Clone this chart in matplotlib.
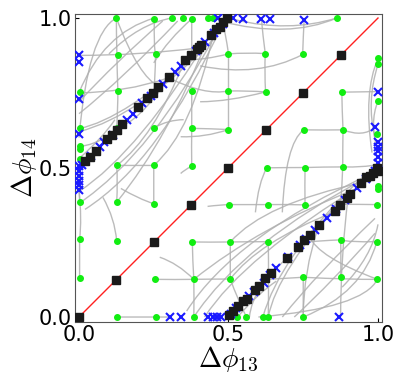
import matplotlib
matplotlib.use("Agg")
import matplotlib.pyplot as plt
from matplotlib.path import Path
from matplotlib.patches import PathPatch

plt.rcParams['mathtext.fontset'] = 'cm'

# green dots (start points)
green_x = [0.125, 0.252, 0.31, 0.349, 0.377, 0.432, 0.447, 0.862,
           0.13, 0.256, 0.5, 0.623, 0.748, 1.0, 1.0,
           0.004, 0.13, 0.377, 0.5, 0.624, 0.879, 1.0,
           0.003, 0.126, 0.25, 0.377, 0.5, 0.751, 0.883, 0.998,
           0.003, 0.003, 0.003,
           0.126, 0.25, 0.377, 0.628, 0.756, 0.882,
           1.0, 1.0,
           0.002, 0.126, 0.25, 0.503, 0.631, 0.756, 0.996,
           0.002, 0.126, 0.379, 0.506, 0.633, 0.875, 0.996,
           0.002, 0.254, 0.384, 0.506, 0.75, 0.875, 0.998,
           0.128, 0.259, 0.384, 0.53, 0.56, 0.615, 0.633, 0.75]
green_y = [1.0, 0.998, 1.0, 1.0, 0.997, 1.0, 1.0, 1.0,
           0.877, 0.878, 0.88, 0.881, 0.878, 0.865, 0.845,
           0.752, 0.755, 0.756, 0.756, 0.753, 0.752, 0.722,
           0.633, 0.633, 0.633, 0.631, 0.627, 0.626, 0.626, 0.613,
           0.573, 0.562, 0.529,
           0.507, 0.507, 0.505, 0.499, 0.5, 0.502,
           0.437, 0.427,
           0.384, 0.384, 0.379, 0.376, 0.376, 0.375, 0.376,
           0.26, 0.254, 0.251, 0.251, 0.252, 0.258, 0.252,
           0.129, 0.126, 0.126, 0.127, 0.133, 0.133, 0.126,
           0.0, 0.0, 0.0, 0.0, 0.0, 0.0, 0.0, 0.0]

# blue crosses (end points)
blue_x = [0.0, 0.0, 0.0, 0.0, 0.0, 0.0, 0.0, 0.0, 0.0, 0.0,
          0.466, 0.516, 0.55, 0.61, 0.639, 0.753,
          1.0, 0.99, 1.0, 1.0, 1.0, 1.0, 1.0,
          0.303, 0.341, 0.43, 0.447, 0.46, 0.475, 0.871,
          0.01, 0.04, 0.07, 0.085, 0.115, 0.16, 0.18, 0.21, 0.24, 0.28,
          0.32, 0.34, 0.39, 0.42, 0.45, 0.48,
          0.51, 0.525, 0.57, 0.585, 0.62, 0.64, 0.66, 0.7, 0.74, 0.76,
          0.79, 0.83, 0.86, 0.89, 0.93, 0.96, 0.99]
blue_y = [0.876, 0.853, 0.729, 0.612, 0.505, 0.49, 0.47, 0.455, 0.44, 0.425,
          1.0, 1.0, 0.998, 0.998, 0.998, 0.995,
          0.754, 0.634, 0.585, 0.57, 0.555, 0.534, 0.515,
          0.0, 0.0, 0.0, 0.0, 0.0, 0.0, 0.0,
          0.51, 0.54, 0.57, 0.585, 0.61, 0.66, 0.68, 0.715, 0.74, 0.78,
          0.82, 0.84, 0.89, 0.92, 0.95, 0.98,
          0.01, 0.03, 0.07, 0.085, 0.115, 0.14, 0.165, 0.2, 0.24, 0.26,
          0.29, 0.33, 0.36, 0.39, 0.43, 0.46, 0.49]

# black squares
diag_sq = [0.0, 0.125, 0.25, 0.375, 0.5, 0.625, 0.75, 0.875]
band_sq_x = [0.02, 0.037, 0.056, 0.093, 0.109, 0.126, 0.143, 0.198, 0.228,
             0.249, 0.265, 0.301, 0.356, 0.375, 0.394, 0.40, 0.408, 0.441,
             0.458, 0.47, 0.48, 0.494,
             0.503, 0.514, 0.531, 0.547, 0.561, 0.59, 0.603, 0.623, 0.642,
             0.697, 0.731, 0.754, 0.773, 0.804, 0.856, 0.872, 0.895, 0.907,
             0.944, 0.961, 0.972, 0.983, 0.998, 1.0]
band_sq_y = [0.523, 0.536, 0.556, 0.594, 0.609, 0.627, 0.644, 0.701, 0.733,
             0.75, 0.768, 0.804, 0.858, 0.877, 0.898, 0.903, 0.909, 0.944,
             0.964, 0.97, 0.987, 1.0,
             0.007, 0.02, 0.037, 0.052, 0.059, 0.092, 0.104, 0.129, 0.148,
             0.199, 0.235, 0.256, 0.274, 0.308, 0.355, 0.376, 0.398, 0.411,
             0.448, 0.467, 0.472, 0.483, 0.5, 0.49]

# gray trajectories: start, control, end (quadratic curves)
gray_paths = [
    # top-left
    [(0.0, 0.875), (0.2, 0.875), (0.4, 0.9)],
    [(0.0, 0.75), (0.15, 0.75), (0.3, 0.8)],
    [(0.0, 0.63), (0.15, 0.66), (0.42, 0.9)],
    [(0.0, 0.62), (0.2, 0.67), (0.45, 0.93)],
    [(0.0, 0.57), (0.1, 0.58), (0.2, 0.7)],
    [(0.126, 0.633), (0.2, 0.65), (0.3, 0.8)],
    [(0.125, 1.0), (0.125, 0.9), (0.13, 0.755)],
    [(0.13, 0.755), (0.13, 0.7), (0.126, 0.633)],
    [(0.252, 1.0), (0.25, 0.9), (0.256, 0.878)],
    [(0.256, 0.878), (0.255, 0.8), (0.25, 0.75)],
    [(0.377, 0.997), (0.377, 0.93), (0.377, 0.877)],
    [(0.125, 1.0), (0.03, 0.95), (0.0, 0.6)],
    [(0.252, 1.0), (0.08, 0.95), (0.0, 0.75)],
    [(0.31, 1.0), (0.2, 0.98), (0.1, 0.88)],
    [(0.125, 1.0), (0.2, 0.8), (0.27, 0.77)],
    [(0.0, 0.38), (0.25, 0.55), (0.47, 0.97)],
    [(0.0, 0.42), (0.2, 0.55), (0.45, 0.96)],
    [(0.02, 0.36), (0.27, 0.52), (0.48, 0.98)],
    [(0.126, 0.384), (0.3, 0.6), (0.43, 0.93)],
    [(0.126, 0.507), (0.25, 0.6), (0.35, 0.85)],
    [(0.25, 0.507), (0.38, 0.62), (0.45, 0.95)],
    [(0.377, 0.756), (0.377, 0.69), (0.377, 0.631)],
    [(0.377, 0.631), (0.376, 0.57), (0.377, 0.505)],
    [(0.5, 0.88), (0.49, 0.95), (0.48, 0.99)],
    [(0.5, 0.756), (0.5, 0.82), (0.5, 0.88)],
    [(0.377, 0.631), (0.44, 0.63), (0.5, 0.627)],
    [(0.126, 0.507), (0.19, 0.507), (0.25, 0.507)],
    [(0.5, 0.756), (0.42, 0.74), (0.3, 0.8)],
    [(0.5, 0.627), (0.42, 0.6), (0.34, 0.603)],
    [(0.377, 0.505), (0.35, 0.49), (0.34, 0.48)],
    [(0.377, 0.997), (0.3, 0.93), (0.25, 0.85)],
    [(0.5, 0.88), (0.42, 0.86), (0.36, 0.86)],
    [(0.0, 0.68), (0.15, 0.8), (0.33, 0.99)],
    [(0.0, 0.72), (0.12, 0.85), (0.28, 0.99)],
    [(0.0, 0.53), (0.08, 0.6), (0.12, 0.66)],
    [(0.25, 0.633), (0.3, 0.66), (0.35, 0.66)],
    # top-right
    [(0.5, 0.88), (0.56, 0.885), (0.623, 0.881)],
    [(0.623, 0.881), (0.615, 0.94), (0.61, 0.998)],
    [(0.748, 0.878), (0.75, 0.94), (0.753, 0.995)],
    [(0.748, 0.878), (0.6, 0.8), (0.405, 0.84)],
    [(0.862, 1.0), (0.7, 0.95), (0.52, 0.995)],
    [(0.862, 1.0), (0.7, 0.93), (0.47, 0.99)],
    [(0.624, 0.753), (0.62, 0.82), (0.623, 0.881)],
    [(0.5, 0.756), (0.56, 0.757), (0.624, 0.753)],
    [(0.624, 0.753), (0.5, 0.72), (0.405, 0.72)],
    [(0.5, 0.627), (0.5, 0.69), (0.5, 0.756)],
    [(0.879, 0.752), (0.94, 0.753), (1.0, 0.754)],
    [(0.879, 0.752), (0.88, 0.69), (0.883, 0.626)],
    [(0.883, 0.626), (0.882, 0.56), (0.882, 0.502)],
    [(0.751, 0.626), (0.82, 0.625), (0.883, 0.626)],
    [(0.751, 0.626), (0.69, 0.58), (0.68, 0.35)],
    [(0.883, 0.626), (0.95, 0.6), (0.99, 0.634)],
    [(1.0, 0.865), (0.95, 0.75), (0.98, 0.55)],
    [(1.0, 0.845), (0.96, 0.72), (0.99, 0.6)],
    [(1.0, 0.722), (0.97, 0.65), (1.0, 0.55)],
    [(0.628, 0.499), (0.7, 0.5), (0.756, 0.5)],
    [(0.756, 0.5), (0.82, 0.502), (0.882, 0.502)],
    [(0.882, 0.502), (0.95, 0.5), (1.0, 0.51)],
    [(0.756, 0.5), (0.755, 0.44), (0.756, 0.375)],
    [(0.882, 0.502), (0.88, 0.44), (0.875, 0.38)],
    [(0.628, 0.499), (0.6, 0.45), (0.59, 0.35)],
    # bottom-right
    [(0.875, 0.0), (0.875, 0.2), (0.9, 0.4)],
    [(0.75, 0.0), (0.75, 0.15), (0.8, 0.3)],
    [(0.633, 0.0), (0.66, 0.15), (0.9, 0.42)],
    [(0.615, 0.0), (0.67, 0.2), (0.93, 0.45)],
    [(0.57, 0.0), (0.58, 0.1), (0.7, 0.2)],
    [(0.998, 0.126), (0.9, 0.125), (0.75, 0.133)],
    [(0.75, 0.133), (0.7, 0.13), (0.633, 0.126)],
    [(0.996, 0.252), (0.9, 0.25), (0.875, 0.258)],
    [(0.875, 0.258), (0.8, 0.255), (0.75, 0.25)],
    [(0.996, 0.376), (0.93, 0.377), (0.875, 0.377)],
    [(0.998, 0.126), (0.95, 0.03), (0.6, 0.0)],
    [(0.996, 0.252), (0.95, 0.08), (0.75, 0.0)],
    [(1.0, 0.31), (0.98, 0.2), (0.88, 0.1)],
    [(0.998, 0.126), (0.8, 0.2), (0.77, 0.27)],
    [(0.68, 0.0), (0.8, 0.15), (0.99, 0.33)],
    [(0.72, 0.0), (0.85, 0.12), (0.99, 0.28)],
    [(0.53, 0.0), (0.6, 0.08), (0.66, 0.12)],
    [(0.384, 0.0), (0.55, 0.25), (0.97, 0.47)],
    [(0.42, 0.0), (0.55, 0.2), (0.96, 0.45)],
    [(0.36, 0.02), (0.52, 0.27), (0.98, 0.48)],
    [(0.384, 0.126), (0.6, 0.3), (0.93, 0.43)],
    [(0.506, 0.127), (0.6, 0.25), (0.85, 0.35)],
    [(0.506, 0.251), (0.62, 0.38), (0.95, 0.45)],
    [(0.756, 0.375), (0.69, 0.377), (0.631, 0.376)],
    [(0.631, 0.376), (0.57, 0.376), (0.503, 0.376)],
    [(0.633, 0.252), (0.635, 0.13), (0.633, 0.0)],
    [(0.875, 0.258), (0.877, 0.19), (0.875, 0.133)],
    [(0.75, 0.133), (0.75, 0.07), (0.75, 0.0)],
    # bottom-left
    [(0.002, 0.26), (0.002, 0.2), (0.002, 0.129)],
    [(0.0, 0.42), (0.01, 0.33), (0.002, 0.26)],
    [(0.126, 0.254), (0.12, 0.33), (0.08, 0.4)],
    [(0.126, 0.384), (0.13, 0.45), (0.126, 0.507)],
    [(0.25, 0.379), (0.25, 0.45), (0.25, 0.507)],
    [(0.002, 0.384), (0.0, 0.45), (0.0, 0.5)],
    [(0.25, 0.379), (0.2, 0.395), (0.14, 0.43)],
    [(0.128, 0.0), (0.19, 0.0), (0.259, 0.0)],
    [(0.259, 0.0), (0.28, 0.0), (0.303, 0.0)],
    [(0.254, 0.126), (0.32, 0.125), (0.384, 0.126)],
    [(0.384, 0.126), (0.45, 0.127), (0.506, 0.127)],
    [(0.379, 0.251), (0.44, 0.25), (0.506, 0.251)],
    [(0.506, 0.251), (0.57, 0.252), (0.633, 0.252)],
    [(0.379, 0.251), (0.38, 0.19), (0.384, 0.126)],
    [(0.384, 0.126), (0.385, 0.06), (0.384, 0.0)],
    [(0.506, 0.251), (0.506, 0.19), (0.506, 0.127)],
    [(0.506, 0.127), (0.53, 0.06), (0.56, 0.0)],
    [(0.27, 0.2), (0.33, 0.18), (0.384, 0.126)],
    [(0.43, 0.37), (0.47, 0.375), (0.503, 0.376)],
]

fig = plt.figure(figsize=(4.0, 3.85), dpi=100)
ax = fig.add_axes([0.1875, 0.1636, 0.7675, 0.80])

codes = [Path.MOVETO, Path.CURVE3, Path.CURVE3]
for pts in gray_paths:
    ax.add_patch(PathPatch(Path(pts, codes), facecolor='none',
                           edgecolor='#b0b0b0', lw=1.0, alpha=0.85, zorder=1))

ax.plot([0, 1], [0, 1], color='#ff2020', lw=1.0, zorder=2)
ax.plot(green_x, green_y, 'o', color='#11ee11', ms=4, mec='#11ee11', zorder=3)
ax.plot(blue_x, blue_y, 'x', color='#1a1aff', ms=5.5, mew=1.5, zorder=4)
ax.plot(diag_sq, diag_sq, 's', color='#1a1a1a', ms=6, zorder=5)
ax.plot(band_sq_x, band_sq_y, 's', color='#1a1a1a', ms=6, zorder=5)

ax.set_xlim(-0.0134, 1.0134)
ax.set_ylim(-0.0167, 1.0134)
ax.set_xticks([0.0, 0.5, 1.0])
ax.set_yticks([0.0, 0.5, 1.0])
ax.tick_params(labelsize=15, direction='in', length=3, pad=2)
for s in ax.spines.values():
    s.set_color('#555555')

ax.set_xlabel(r'$\Delta\phi_{13}$', fontsize=20, labelpad=0)
ax.set_ylabel(r'$\Delta\phi_{14}$', fontsize=20, labelpad=0)

fig.savefig('out.png', dpi=100)
